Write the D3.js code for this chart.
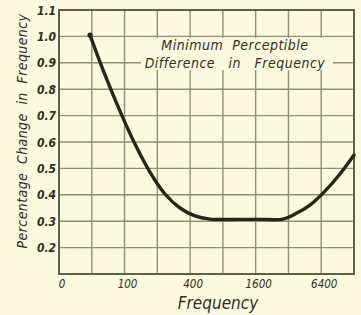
<!DOCTYPE html>
<html>
<head>
<meta charset="utf-8">
<script src="https://cdn.jsdelivr.net/npm/d3@7"></script>
<style>
  html, body { margin: 0; padding: 0; background: #fcf9e0; }
  svg { display: block; }
  text { font-family: "Liberation Sans Narrow", "DejaVu Sans Condensed", "Liberation Sans", sans-serif; font-style: italic; fill: #2e2e24; }
</style>
</head>
<body>
<svg id="chart" width="361" height="315"></svg>
<script>
// ---- data ----
const frequencies = [48.2, 66.1, 90.8, 124.7, 171, 235, 323, 443, 609, 1146, 1750, 2850, 3676, 5046, 6930, 9515, 12800];
const percentChange = [1.005, 0.854, 0.717, 0.592, 0.486, 0.403, 0.35, 0.32, 0.308, 0.307, 0.307, 0.308, 0.327, 0.361, 0.414, 0.479, 0.551];
const xGridValues = [25, 50, 100, 200, 400, 800, 1600, 3200, 6400, 12800];
const xTickValues = [25, 100, 400, 1600, 6400];
const xTickLabels = ["0", "100", "400", "1600", "6400"];
const yGridValues = [0.1, 0.2, 0.3, 0.4, 0.5, 0.6, 0.7, 0.8, 0.9, 1.0, 1.1];
const yTickValues = [0.2, 0.3, 0.4, 0.5, 0.6, 0.7, 0.8, 0.9, 1.0, 1.1];
const titleLines = ["Minimum  Perceptible", "Difference   in   Frequency"];
const xTitle = "Frequency";
const yTitle = "Percentage  Change  in  Frequency";

// ---- layout ----
const svg = d3.select("#chart");
const L = 59, R = 354, T = 10, B = 274;
const x = d3.scaleLog().base(2).domain([25, 12800]).range([L, R]);
const y = d3.scaleLinear().domain([0.1, 1.1]).range([B, T]);

svg.append("rect").attr("width", 361).attr("height", 315).attr("fill", "#fcf9e0");

const grid = svg.append("g").attr("stroke", "#8c9277").attr("stroke-width", 1.4);
grid.selectAll("line.v").data(xGridValues).join("line")
  .attr("x1", d => x(d)).attr("x2", d => x(d)).attr("y1", T).attr("y2", B);
grid.selectAll("line.h").data(yGridValues).join("line")
  .attr("x1", L).attr("x2", R).attr("y1", d => y(d)).attr("y2", d => y(d));

// title box covering grid
svg.append("rect").attr("x", 141).attr("y", 38).attr("width", 192).attr("height", 32).attr("fill", "#fcf9e0");

// frame
svg.append("rect").attr("x", L).attr("y", T).attr("width", R - L).attr("height", B - T)
  .attr("fill", "none").attr("stroke", "#5d6249").attr("stroke-width", 2);

// curve
const line = d3.line().x((d, i) => x(frequencies[i])).y(d => y(d)).curve(d3.curveCatmullRom.alpha(0.5));
svg.append("path").datum(percentChange).attr("d", line)
  .attr("fill", "none").attr("stroke", "#26261e").attr("stroke-width", 3.4)
  .attr("stroke-linecap", "round").attr("stroke-linejoin", "round");
svg.append("circle").attr("cx", x(frequencies[0])).attr("cy", y(percentChange[0])).attr("r", 2.6).attr("fill", "#26261e");

// y tick labels
svg.append("g").selectAll("text").data(yTickValues).join("text")
  .attr("x", L - 3).attr("y", d => y(d) + 4.5)
  .attr("text-anchor", "end").attr("font-size", 12).attr("font-weight", "bold")
  .text(d => d.toFixed(1));

// x tick labels
svg.append("g").selectAll("text").data(xTickValues).join("text")
  .attr("x", d => x(d) + 3).attr("y", 288)
  .attr("text-anchor", "middle").attr("font-size", 11.5)
  .text((d, i) => xTickLabels[i]);

// axis titles
svg.append("text").attr("x", 218).attr("y", 309).attr("text-anchor", "middle")
  .attr("font-size", 17).text(xTitle);
svg.append("text").attr("transform", "translate(27,131) rotate(-90)").attr("text-anchor", "middle")
  .attr("font-size", 14).attr("letter-spacing", 0.4).style("white-space", "pre").text(yTitle);

// chart title
svg.append("g").selectAll("text").data(titleLines).join("text")
  .attr("x", 235).attr("y", (d, i) => 50 + i * 18).attr("text-anchor", "middle")
  .attr("font-size", 14).attr("letter-spacing", 0.5).style("white-space", "pre").text(d => d);
</script>
</body>
</html>
